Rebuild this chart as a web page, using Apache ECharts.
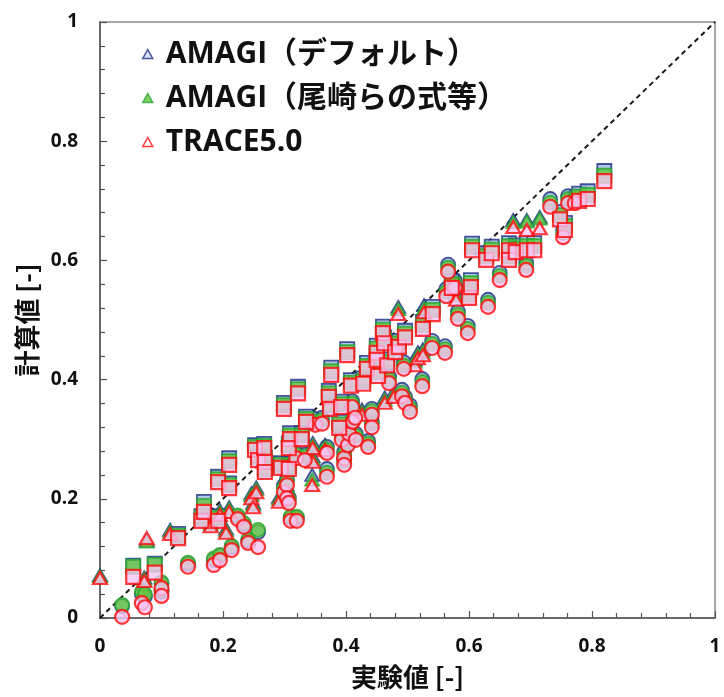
<!DOCTYPE html>
<html><head><meta charset="utf-8">
<script src="https://cdn.jsdelivr.net/npm/echarts@6/dist/echarts.min.js"></script>
<style>html,body{margin:0;padding:0;background:#fff}#c{width:724px;height:697px}</style>
</head><body><div id="c"></div>
<script>
// series names
const seriesNames = ['AMAGI（デフォルト）', 'AMAGI（尾崎らの式等）', 'TRACE5.0'];
const xTitle = '実験値 [-]';
const yTitle = '計算値 [-]';
const diag = [[0, 0], [1, 1]];

// squares
const sqX     = [0.054,0.089,0.127,0.165,0.169,0.192,0.192,0.210,0.210,0.252,0.257,0.267,0.268,0.268,0.294,0.307,0.309,0.307,0.328,0.299,0.322,0.335,0.372,0.374,0.376,0.389,0.392,0.402,0.408,0.428,0.434,0.450,0.450,0.452,0.460,0.462,0.467,0.480,0.486,0.496,0.525,0.541,0.572,0.600,0.603,0.605,0.628,0.637,0.665,0.665,0.676,0.694,0.706,0.748,0.756,0.779,0.793,0.820];
const sqRed   = [0.069,0.076,0.134,0.163,0.178,0.163,0.228,0.218,0.257,0.282,0.265,0.285,0.262,0.245,0.252,0.250,0.300,0.285,0.300,0.351,0.377,0.329,0.371,0.351,0.408,0.319,0.354,0.441,0.390,0.393,0.418,0.445,0.433,0.406,0.478,0.461,0.424,0.446,0.455,0.471,0.485,0.510,0.554,0.537,0.555,0.617,0.601,0.612,0.617,0.601,0.614,0.617,0.617,0.669,0.651,0.700,0.703,0.733];
const sqGreen = [0.086,0.089,0.138,0.168,0.188,0.168,0.233,0.223,0.263,0.287,0.270,0.289,0.266,0.249,0.257,0.254,0.306,0.290,0.306,0.357,0.384,0.334,0.377,0.357,0.414,0.325,0.359,0.446,0.395,0.398,0.423,0.452,0.439,0.412,0.484,0.467,0.430,0.452,0.461,0.477,0.492,0.517,0.560,0.543,0.562,0.623,0.607,0.618,0.624,0.607,0.620,0.624,0.624,0.676,0.658,0.707,0.710,0.742];
const sqBlue  = [0.088,0.091,0.141,0.171,0.195,0.171,0.237,0.226,0.268,0.290,0.273,0.292,0.269,0.252,0.260,0.258,0.310,0.293,0.310,0.361,0.388,0.338,0.381,0.361,0.420,0.329,0.363,0.451,0.399,0.402,0.428,0.457,0.443,0.416,0.489,0.471,0.434,0.456,0.465,0.482,0.497,0.522,0.565,0.548,0.567,0.628,0.612,0.623,0.629,0.612,0.625,0.629,0.629,0.681,0.663,0.712,0.716,0.750];

// circles
const ciX     = [0.036,0.068,0.073,0.100,0.100,0.143,0.185,0.195,0.214,0.224,0.234,0.241,0.257,0.299,0.304,0.304,0.307,0.310,0.320,0.319,0.333,0.350,0.361,0.369,0.369,0.393,0.397,0.397,0.403,0.405,0.410,0.411,0.415,0.416,0.436,0.442,0.442,0.470,0.491,0.494,0.496,0.504,0.524,0.540,0.561,0.563,0.566,0.577,0.582,0.598,0.631,0.650,0.693,0.732,0.753,0.761,0.772];
const ciRed   = [0.002,0.025,0.018,0.050,0.037,0.086,0.089,0.097,0.114,0.166,0.153,0.126,0.119,0.211,0.223,0.201,0.193,0.163,0.163,0.268,0.265,0.324,0.326,0.237,0.277,0.299,0.268,0.257,0.290,0.309,0.354,0.329,0.336,0.299,0.287,0.341,0.320,0.394,0.372,0.418,0.361,0.346,0.389,0.453,0.445,0.540,0.581,0.554,0.502,0.478,0.522,0.567,0.584,0.690,0.639,0.696,0.696];
const ciGreen = [0.022,0.044,0.040,0.060,0.046,0.093,0.100,0.106,0.121,0.172,0.159,0.132,0.148,0.218,0.229,0.207,0.199,0.170,0.170,0.274,0.271,0.330,0.332,0.244,0.283,0.305,0.274,0.263,0.296,0.315,0.360,0.335,0.342,0.305,0.293,0.347,0.326,0.400,0.378,0.424,0.367,0.352,0.396,0.460,0.451,0.547,0.588,0.561,0.509,0.485,0.529,0.574,0.591,0.697,0.646,0.703,0.703];
const ciBlue  = [0.020,0.040,0.036,0.058,0.044,0.091,0.097,0.104,0.119,0.170,0.157,0.130,0.144,0.222,0.233,0.210,0.202,0.168,0.168,0.277,0.274,0.334,0.336,0.250,0.287,0.309,0.279,0.267,0.300,0.319,0.364,0.339,0.346,0.309,0.297,0.351,0.330,0.405,0.383,0.429,0.371,0.357,0.401,0.465,0.456,0.552,0.593,0.566,0.514,0.490,0.534,0.579,0.596,0.703,0.651,0.708,0.708];

// triangles
const trX     = [0.000,0.072,0.076,0.114,0.180,0.195,0.205,0.210,0.246,0.249,0.254,0.291,0.345,0.346,0.346,0.366,0.426,0.463,0.478,0.485,0.512,0.517,0.525,0.527,0.579,0.672,0.694,0.715];
const trRed   = [0.067,0.062,0.134,0.141,0.154,0.173,0.143,0.178,0.201,0.186,0.211,0.195,0.223,0.262,0.285,0.282,0.341,0.361,0.371,0.510,0.424,0.436,0.441,0.513,0.534,0.656,0.651,0.654];
const trGreen = [0.070,0.066,0.128,0.145,0.158,0.178,0.147,0.183,0.206,0.190,0.216,0.200,0.232,0.267,0.290,0.287,0.346,0.366,0.376,0.518,0.430,0.442,0.447,0.520,0.541,0.664,0.665,0.670];
const trBlue  = [0.072,0.068,0.130,0.148,0.161,0.181,0.150,0.186,0.209,0.193,0.219,0.203,0.240,0.271,0.294,0.291,0.350,0.370,0.380,0.522,0.434,0.446,0.451,0.525,0.546,0.668,0.668,0.673];

function zip(xs, ys) { return xs.map((x, i) => [x, ys[i]]); }

const styles = [
  { color: '#9dbce6', borderColor: '#1a2d80', borderWidth: 1.8 },
  { color: '#64c63e', borderColor: '#25a630', borderWidth: 1.8 },
  { color: '#f8c4f4', borderColor: '#ff0a0a', borderWidth: 2.2 }
];
const legendFill = ['#c9daf2', '#64c63e', '#ffffff'];
const yByShape = {
  triangle: [trBlue, trGreen, trRed],
  circle:   [ciBlue, ciGreen, ciRed],
  rect:     [sqBlue, sqGreen, sqRed]
};
const xByShape = { triangle: trX, circle: ciX, rect: sqX };
const sizeByShape = { triangle: [14, 12], circle: 14, rect: 14 };

const series = [];
[0, 1, 2].forEach(k => {
  ['triangle', 'circle', 'rect'].forEach(shape => {
    series.push({
      type: 'scatter',
      name: shape === 'triangle' ? seriesNames[k] : seriesNames[k] + '_' + shape,
      symbol: shape,
      symbolSize: sizeByShape[shape],
      data: zip(xByShape[shape], yByShape[shape][k]),
      itemStyle: styles[k],
      z: 2 + k,
      silent: true,
      animation: false
    });
  });
});
series.unshift({
  type: 'line', data: diag, symbol: 'none', z: 1, silent: true, animation: false,
  lineStyle: { color: '#1a1a1a', width: 2, type: [5, 4] }
});

const labelFont = { fontFamily: "'Open Sans','Noto Sans CJK JP',sans-serif", fontWeight: 'bold', fontSize: 19, color: '#111' };
const nameFont = { fontFamily: "'Noto Sans CJK JP',sans-serif", fontWeight: 'bold', fontSize: 26, color: '#111' };

const axisCommon = {
  type: 'value', min: 0, max: 1, interval: 0.2,
  axisLine: { show: true, lineStyle: { color: '#555', width: 1.5 } },
  axisTick: { show: true, inside: true, length: 7, lineStyle: { color: '#555', width: 1.2 } },
  minorTick: { show: true, splitNumber: 5, length: 5, lineStyle: { color: '#555', width: 1.2 } },
  splitLine: { show: false },
  nameLocation: 'middle',
  nameTextStyle: nameFont
};

const chart = echarts.init(document.getElementById('c'), null, { renderer: 'canvas' });
chart.setOption({
  animation: false,
  backgroundColor: '#fff',
  grid: { left: 100, right: 9, top: 22, bottom: 79, show: true, borderColor: '#8a8a8a', borderWidth: 1.5 },
  xAxis: Object.assign({}, axisCommon, {
    name: xTitle, nameGap: 46,
    axisLabel: Object.assign({ margin: 19 }, labelFont)
  }),
  yAxis: Object.assign({}, axisCommon, {
    name: yTitle, nameGap: 58,
    axisLabel: Object.assign({ margin: 22 }, labelFont)
  }),
  legend: {
    orient: 'vertical', left: 137, top: 34,
    data: seriesNames.map((n, k) => ({ name: n, itemStyle: { color: legendFill[k], borderColor: styles[k].borderColor, borderWidth: 1.5 } })),
    itemWidth: 10, itemHeight: 9, itemGap: 14,
    selectedMode: false,
    textStyle: { fontFamily: "'Open Sans','Noto Sans CJK JP',sans-serif", fontWeight: 'bold', fontSize: 30, lineHeight: 30, color: '#111', padding: [0, 0, 0, 8] }
  },
  series: series
});
</script>
</body></html>
